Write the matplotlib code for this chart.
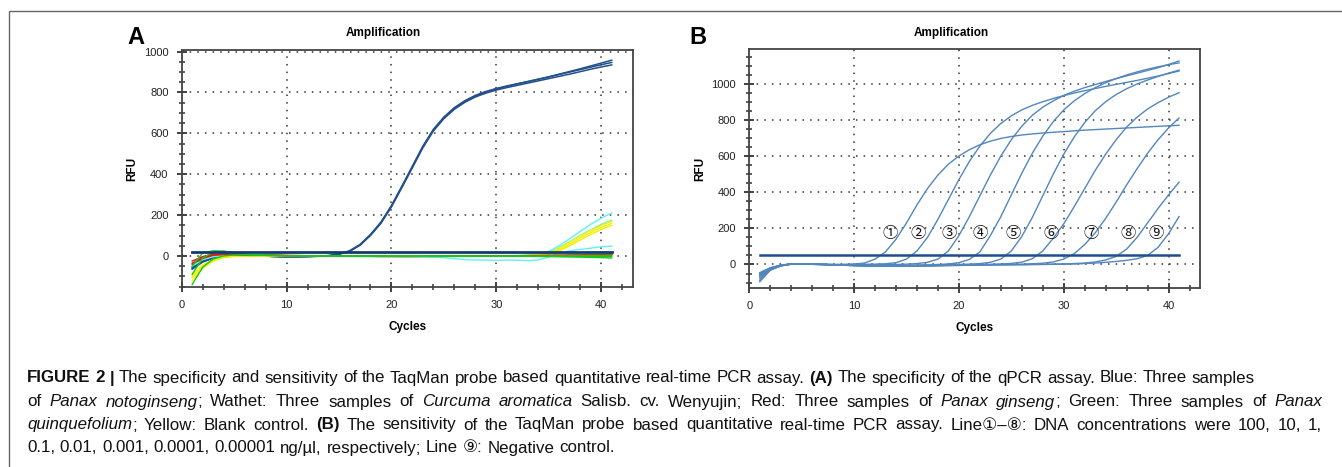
import re
import matplotlib
matplotlib.use("Agg")
import matplotlib.pyplot as plt
from matplotlib.patches import Rectangle
from matplotlib.ticker import MultipleLocator

plt.rcParams['font.family'] = ['Liberation Sans', 'DejaVu Sans', 'Noto Sans CJK SC']

cycles = list(range(1, 42))

# ---- panel A: specificity ----
a_blue = [
    [-60, -28, -10, -2, 1, 2, 1, -1, -3, -4, -4, -3, -2, 0, 8, 22, 52, 100, 160, 240, 335, 432, 530, 612, 672, 718, 752, 778, 797, 812, 824, 835, 846, 857, 868, 879, 890, 902, 914, 925, 935],
    [-55, -25, -8, -1, 2, 2, 1, -1, -3, -4, -4, -3, -1, 2, 10, 25, 56, 105, 166, 247, 342, 440, 538, 620, 680, 726, 760, 786, 805, 820, 832, 843, 854, 865, 876, 888, 900, 912, 924, 936, 947],
    [-65, -30, -11, -2, 1, 2, 1, -1, -3, -4, -4, -3, -1, 1, 9, 24, 54, 103, 163, 244, 340, 437, 535, 617, 677, 723, 757, 783, 802, 817, 830, 842, 853, 865, 877, 890, 903, 916, 930, 944, 958],
]
a_wathet = [
    [-45, -15, -2, 3, 4, 3, 2, 1, 0, 0, 0, 0, 0, 0, -1, -1, -2, -2, -2, -2, -2, -2, -2, -2, -2, -2, -2, -2, -1, -1, 0, 1, 3, 8, 22, 50, 85, 120, 155, 185, 210],
    [-50, -18, -4, 2, 3, 3, 2, 1, 0, 0, 0, 0, 0, 0, 0, -1, -1, -1, -1, -1, -1, -1, -1, -1, -1, -1, -1, 0, 0, 0, 1, 2, 4, 8, 18, 40, 70, 100, 128, 155, 175],
    [-40, -12, -1, 3, 4, 3, 2, 0, -1, -2, -2, -2, -2, -2, -2, -3, -3, -3, -3, -3, -4, -4, -5, -6, -8, -14, -18, -20, -20, -22, -20, -21, -23, -20, -5, 15, 25, 32, 38, 45, 48],
]
a_yellow = [
    [-120, -60, -25, -8, -2, 0, 1, 1, 1, 1, 1, 0, 0, 0, 0, 0, 0, 0, 0, 0, 0, 0, 0, 0, 0, 0, 0, 0, 0, 0, 0, 1, 2, 4, 10, 30, 58, 88, 115, 140, 160],
    [-105, -50, -20, -6, -1, 0, 1, 1, 1, 1, 1, 0, 0, 0, 0, 0, 0, 0, 0, 0, 0, 0, 0, 0, 0, 0, 0, 0, 0, 0, 0, 1, 2, 5, 14, 38, 68, 98, 125, 150, 170],
    [-95, -45, -18, -5, -1, 0, 1, 1, 1, 1, 1, 0, 0, 0, 0, 0, 0, 0, 0, 0, 0, 0, 0, 0, 0, 0, 0, 0, 0, 0, 0, 1, 2, 3, 8, 25, 50, 78, 105, 130, 150],
]
a_red = [
    [-35, -8, 5, 8, 7, 6, 5, 4, 3, 2, 2, 1, 1, 0, 0, 0, -1, -1, -1, -2, -2, -2, -2, -2, -2, -2, -1, -1, -1, 0, 0, 0, 1, 1, 2, 2, 3, 3, 4, 5, 6],
    [-25, -3, 8, 9, 7, 5, 4, 3, 3, 2, 1, 1, 0, 0, -1, -1, -2, -2, -3, -3, -3, -3, -2, -2, -2, -1, -1, 0, 0, 0, 1, 1, 1, 2, 2, 3, 3, 4, 5, 6, 8],
    [-40, -12, 3, 7, 7, 6, 5, 4, 3, 2, 2, 1, 1, 0, 0, 0, 0, -1, -1, -1, -1, -1, -1, -1, -1, -1, 0, 0, 0, 0, 1, 1, 2, 2, 3, 3, 4, 4, 5, 6, 7],
]
a_green = [
    [-50, 15, 25, 24, 15, 8, 5, 3, 2, 1, 1, 0, 0, 0, -1, -1, -1, -2, -2, -2, -2, -2, -2, -2, -2, -2, -2, -2, -2, -2, -2, -2, -2, -2, -2, -2, -2, -2, -3, -3, -3],
    [-90, -10, 18, 22, 14, 8, 5, 3, 2, 1, 1, 0, 0, 0, 0, -1, -1, -1, -1, -1, -1, -1, -1, -1, -1, -1, -1, -1, -1, -1, -1, -1, -1, -1, 0, 0, 1, 1, 2, 2, 3],
    [-140, -55, -15, 0, 5, 5, 4, 3, 2, 1, 1, 0, 0, 0, 0, 0, -1, -1, -1, -1, -1, -1, -1, -1, -1, -1, -1, -1, -1, -1, -1, -1, -1, -2, -3, -4, -5, -6, -7, -8, -10],
]
a_threshold = 18

# ---- panel B: sensitivity (lines 1-9) ----
b_lines = [
    [-45, -18, -3, 3, 3, 2, 1, 0, 0, 2, 8, 30, 70, 140, 230, 330, 420, 495, 555, 600, 635, 662, 682, 697, 708, 716, 722, 727, 731, 735, 739, 743, 746, 749, 752, 755, 758, 761, 764, 767, 770],
    [-55, -20, -4, 2, 3, 2, 1, 0, 0, 1, 1, 2, 4, 10, 30, 75, 150, 250, 360, 470, 570, 655, 725, 780, 822, 855, 880, 900, 918, 934, 948, 961, 973, 985, 996, 1007, 1018, 1030, 1042, 1056, 1070],
    [-60, -22, -5, 2, 3, 2, 0, -1, -2, -2, -2, -2, -1, 0, 2, 5, 12, 30, 75, 160, 265, 380, 495, 600, 690, 765, 825, 870, 905, 935, 958, 978, 995, 1012, 1028, 1043, 1058, 1073, 1088, 1106, 1125],
    [-65, -24, -6, 2, 3, 1, 0, -2, -3, -4, -5, -5, -5, -5, -4, -3, -2, 0, 3, 10, 28, 70, 160, 265, 385, 505, 615, 710, 790, 855, 905, 945, 978, 1005, 1028, 1048, 1065, 1080, 1093, 1105, 1115],
    [-70, -25, -6, 2, 3, 1, 0, -2, -4, -5, -6, -7, -7, -7, -6, -5, -4, -3, -1, 0, 2, 5, 12, 30, 75, 155, 260, 380, 500, 610, 705, 785, 850, 900, 940, 972, 998, 1020, 1040, 1058, 1075],
    [-80, -28, -7, 2, 3, 1, 0, -2, -4, -6, -7, -8, -8, -8, -8, -7, -6, -5, -4, -3, -2, 0, 1, 3, 6, 13, 32, 75, 145, 225, 320, 420, 520, 610, 690, 760, 815, 860, 895, 925, 950],
    [-90, -30, -8, 2, 3, 1, 0, -2, -4, -6, -8, -9, -9, -9, -9, -8, -7, -6, -5, -4, -3, -2, -1, 0, 1, 2, 4, 7, 14, 30, 60, 110, 175, 255, 345, 440, 530, 615, 690, 755, 810],
    [-50, -19, -4, 3, 3, 2, 0, -1, -3, -5, -6, -7, -8, -8, -8, -8, -7, -6, -5, -5, -4, -3, -3, -2, -2, -1, 0, 1, 2, 3, 5, 8, 14, 25, 45, 85, 150, 230, 310, 385, 455],
    [-95, -32, -8, 2, 3, 1, 0, -2, -4, -6, -8, -9, -10, -10, -10, -9, -8, -7, -6, -5, -4, -3, -2, -2, -1, -1, 0, 0, 1, 2, 3, 5, 8, 12, 17, 23, 32, 50, 95, 170, 265],
]
b_threshold = 50
b_marks = ['①', '②', '③', '④', '⑤', '⑥', '⑦', '⑧', '⑨']
b_mark_x = [13.4, 16.1, 19.1, 22.0, 25.2, 28.8, 32.6, 36.1, 38.8]
b_mark_y = 172

W, H = 1342, 467
fig = plt.figure(figsize=(W / 100, H / 100), dpi=100)


def box(l, t, r, b):
    return [l / W, 1 - b / H, (r - l) / W, (b - t) / H]


def style_axes(ax, ylim, xlim=(0, 43)):
    ax.set_xlim(*xlim)
    ax.set_ylim(*ylim)
    ax.xaxis.set_major_locator(MultipleLocator(10))
    ax.xaxis.set_minor_locator(MultipleLocator(2))
    ax.yaxis.set_major_locator(MultipleLocator(200))
    ax.yaxis.set_minor_locator(MultipleLocator(50))
    ax.tick_params(which='major', direction='inout', length=7, width=1.3, color='#333333',
                   labelsize=8, labelcolor='#222222', pad=6)
    ax.tick_params(which='minor', direction='inout', length=5, width=1.1, color='#333333')
    for s in ax.spines.values():
        s.set_color('#444444')
        s.set_linewidth(1.3)
    ax.grid(True, which='major', color='#333333', linestyle=(0, (1, 4)), linewidth=1.1)
    ax.set_xlabel('Cycles', fontsize=8.5, fontweight='bold', labelpad=8)
    ax.set_ylabel('RFU', fontsize=8.5, fontweight='bold', labelpad=4)


# panel A
axA = fig.add_axes(box(181.7, 50, 632.7, 287))
for ys in a_blue:
    axA.plot(cycles, ys, color='#234f8c', lw=1.1)
for ys in a_wathet:
    axA.plot(cycles, ys, color='#5ff2f2', lw=1.0)
for ys in a_yellow:
    axA.plot(cycles, ys, color='#f0f000', lw=1.0)
for ys in a_red:
    axA.plot(cycles, ys, color='#e31a1c', lw=1.0)
for ys in a_green:
    axA.plot(cycles, ys, color='#18c818', lw=1.0)
axA.plot([cycles[0], cycles[-1]], [a_threshold, a_threshold], color='#143a72', lw=2.0)
style_axes(axA, (-152, 1008))

# panel B
axB = fig.add_axes(box(749.3, 49.3, 1200, 288))
for ys in b_lines:
    axB.plot(cycles, ys, color='#5286bf', lw=1.0)
axB.plot([cycles[0], cycles[-1]], [b_threshold, b_threshold], color='#1d4f8f', lw=1.8)
for m, mx in zip(b_marks, b_mark_x):
    axB.text(mx, b_mark_y, m, fontsize=11, ha='center', va='center', color='#111111',
             family=['Noto Sans CJK SC', 'DejaVu Sans'])
style_axes(axB, (-130, 1190))

fig.text(383 / W, 1 - 33 / H, 'Amplification', fontsize=8.5, fontweight='bold', ha='center', va='center')
fig.text(951 / W, 1 - 33 / H, 'Amplification', fontsize=8.5, fontweight='bold', ha='center', va='center')
fig.text(136 / W, 1 - 37 / H, 'A', fontsize=17, fontweight='bold', ha='center', va='center')
fig.text(698 / W, 1 - 37 / H, 'B', fontsize=17, fontweight='bold', ha='center', va='center')

# outer frame
fig.patches.append(Rectangle((9 / W, -0.1), 1.2, 1 - 11 / H + 0.1, transform=fig.transFigure,
                             fill=False, edgecolor='#666666', lw=1.0))

# caption, laid out word by word so lines can be justified
renderer = fig.canvas.get_renderer()
family = ['Liberation Sans', 'DejaVu Sans', 'Noto Sans CJK SC']
cap_size = 12.2


def text_kw(kind, size):
    kw = dict(fontsize=size, family=family, ha='left', va='center', color='#111111')
    if kind == 'b':
        kw['fontweight'] = 'bold'
    if kind == 'i':
        kw['style'] = 'italic'
    return kw


def measure(s, kind, size):
    t = fig.text(0, 0, s, **text_kw(kind, size))
    w = t.get_window_extent(renderer).width
    t.remove()
    return w


def caption_line(x0, y, runs, size, right=None):
    pieces = []
    for txt, kind in runs:
        for p in re.split(r'( )', txt):
            if p:
                pieces.append((p, kind))
    widths = []
    for p, k in pieces:
        if p == ' ':
            widths.append(measure('x x', k, size) - measure('xx', k, size))
        else:
            widths.append(measure(p, k, size))
    extra = 0
    nsp = sum(1 for p, _ in pieces if p == ' ')
    if right is not None and nsp:
        extra = max(0, (right - x0 - sum(widths)) / nsp)
    x = x0
    for (p, k), w in zip(pieces, widths):
        if p == ' ':
            x += w + extra
        else:
            fig.text(x / W, 1 - y / H, p, **text_kw(k, size))
            x += w


caption_line(27, 378, [('FIGURE 2 |', 'b'),
                       (' The specificity and sensitivity of the TaqMan probe based quantitative real-time PCR assay. ', 'r'),
                       ('(A)', 'b'), (' The specificity of the qPCR assay. Blue: Three samples', 'r')], cap_size)
caption_line(27, 402, [('of ', 'r'), ('Panax notoginseng', 'i'), ('; Wathet: Three samples of ', 'r'),
                       ('Curcuma aromatica', 'i'), (' Salisb. cv. Wenyujin; Red: Three samples of ', 'r'),
                       ('Panax ginseng', 'i'), ('; Green: Three samples of ', 'r'), ('Panax', 'i')], cap_size, right=1322)
caption_line(27, 425, [('quinquefolium', 'i'), ('; Yellow: Blank control. ', 'r'), ('(B)', 'b'),
                       (' The sensitivity of the TaqMan probe based quantitative real-time PCR assay. Line①–⑧: DNA concentrations were 100, 10, 1,', 'r')],
             cap_size, right=1322)
caption_line(27, 448, [('0.1, 0.01, 0.001, 0.0001, 0.00001 ng/µl, respectively; Line ⑨: Negative control.', 'r')], cap_size)

fig.savefig('out.png', dpi=100)
